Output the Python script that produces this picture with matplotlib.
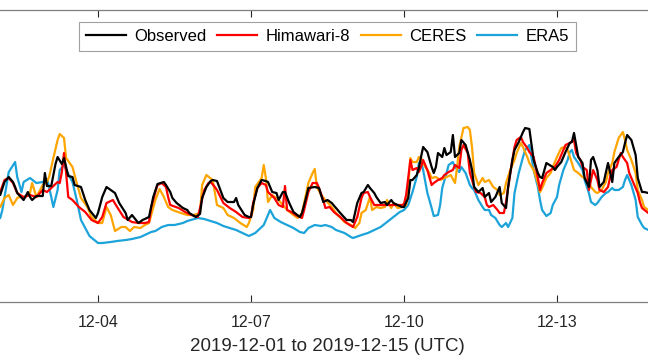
import matplotlib
matplotlib.use("Agg")
import matplotlib.pyplot as plt
import numpy as np
import pandas as pd

plt.rcParams['font.family'] = ['Liberation Sans', 'DejaVu Sans']

start = pd.Timestamp('2019-12-01 00:00')

# hours since 2019-12-01 00:00 UTC and values (arbitrary units) for each series
obs_h = [24, 26, 28, 30, 32, 33, 34, 37, 39, 40, 41, 43, 46, 47, 48, 50, 52, 53, 55, 56, 58, 60, 61, 64, 66, 68, 71, 72, 74, 76, 78, 80, 82, 85, 86, 88, 91, 93, 96, 98, 100, 103, 104, 106, 107, 109, 112, 114, 115, 118, 120, 121, 123, 125, 126, 128, 131, 133, 136, 137, 138, 141, 143, 144, 145, 147, 149, 151, 152, 154, 156, 157, 159, 160, 162, 164, 167, 168, 170, 171, 174, 176, 177, 178, 180, 182, 184, 186, 189, 191, 192, 194, 196, 197, 199, 200, 202, 203, 205, 207, 208, 210, 211, 213, 215, 216, 218, 219, 220, 222, 223, 224, 225, 227, 229, 230, 231, 232, 234, 235, 236, 238, 239, 240, 242, 243, 245, 247, 248, 249, 251, 253, 254, 256, 257, 259, 261, 262, 264, 265, 267, 268, 270, 272, 273, 275, 277, 279, 280, 281, 283, 286, 287, 288, 290, 292, 294, 295, 296, 298, 300, 301, 303, 304, 305, 307, 308, 310, 312, 314, 315, 317, 319, 320, 321, 323, 325, 326, 328, 329, 331, 332]
obs_v = [107, 107, 120, 125, 120, 115, 109, 102, 110, 105, 102, 106, 106, 129, 116, 116, 138, 145, 138, 144, 126, 125, 117, 115, 102, 92, 84, 89, 105, 115, 112, 109, 99, 89, 82, 87, 79, 82, 85, 105, 118, 120, 117, 110, 104, 99, 94, 92, 89, 85, 88, 104, 115, 121, 122, 121, 104, 100, 100, 104, 97, 87, 85, 85, 97, 114, 122, 121, 120, 110, 109, 102, 110, 110, 99, 90, 85, 89, 105, 114, 115, 114, 107, 100, 102, 99, 94, 89, 82, 82, 80, 99, 109, 110, 117, 114, 109, 105, 99, 100, 97, 102, 99, 97, 95, 95, 104, 122, 122, 127, 134, 145, 155, 150, 135, 129, 135, 149, 145, 154, 147, 150, 167, 145, 149, 162, 157, 142, 132, 115, 110, 114, 105, 109, 100, 105, 115, 99, 94, 115, 142, 152, 160, 170, 174, 173, 142, 129, 125, 124, 139, 135, 132, 135, 140, 150, 159, 160, 169, 145, 139, 124, 115, 142, 145, 132, 115, 120, 139, 120, 139, 145, 150, 159, 167, 162, 147, 124, 110, 110, 109, 108]

him_h = [24, 26, 28, 30, 32, 34, 37, 40, 43, 46, 48, 50, 53, 54, 55, 56, 57, 58, 60, 63, 66, 69, 72, 74, 76, 79, 81, 84, 88, 91, 94, 96, 97, 99, 100, 102, 104, 105, 106, 110, 113, 116, 119, 120, 122, 124, 125, 127, 128, 131, 134, 137, 140, 143, 144, 145, 147, 149, 151, 152, 155, 157, 159, 160, 161, 163, 165, 168, 169, 171, 173, 175, 176, 178, 179, 181, 183, 186, 189, 192, 194, 196, 197, 199, 200, 202, 206, 211, 215, 216, 217, 219, 220, 222, 223, 224, 225, 227, 229, 230, 232, 234, 235, 237, 239, 240, 242, 243, 244, 246, 247, 249, 250, 252, 254, 255, 256, 258, 260, 261, 263, 264, 266, 268, 269, 271, 272, 274, 275, 277, 279, 280, 281, 283, 285, 287, 289, 292, 294, 296, 297, 299, 300, 302, 303, 304, 305, 307, 308, 310, 312, 313, 314, 316, 318, 319, 321, 322, 324, 326, 327, 328, 331, 332]
him_v = [107, 110, 122, 124, 119, 109, 105, 107, 105, 112, 110, 114, 120, 119, 130, 149, 129, 105, 102, 95, 90, 82, 79, 85, 99, 102, 95, 85, 80, 79, 79, 80, 94, 110, 117, 119, 115, 105, 97, 94, 90, 87, 85, 94, 112, 119, 120, 115, 112, 99, 94, 90, 85, 84, 85, 99, 114, 119, 117, 110, 104, 97, 95, 116, 92, 90, 87, 84, 92, 110, 119, 119, 114, 102, 94, 95, 90, 85, 79, 75, 85, 104, 109, 110, 105, 97, 97, 97, 97, 98, 107, 142, 132, 134, 130, 135, 142, 132, 117, 119, 122, 124, 127, 130, 132, 137, 134, 152, 157, 149, 129, 115, 110, 109, 105, 97, 95, 97, 92, 89, 89, 100, 129, 155, 162, 165, 160, 154, 150, 145, 124, 112, 119, 129, 132, 135, 142, 157, 159, 162, 149, 142, 135, 132, 112, 122, 132, 122, 112, 110, 115, 125, 132, 135, 149, 145, 139, 129, 119, 109, 100, 94, 89, 87]

cer_h = [24, 26, 28, 30, 32, 34, 35, 38, 40, 41, 43, 46, 48, 49, 51, 53, 54, 56, 57, 60, 62, 64, 67, 69, 72, 74, 76, 78, 80, 83, 85, 87, 89, 92, 94, 96, 99, 101, 103, 105, 107, 111, 114, 117, 120, 121, 123, 126, 128, 131, 133, 136, 139, 142, 143, 145, 146, 149, 150, 151, 152, 154, 157, 159, 161, 164, 166, 168, 170, 171, 173, 174, 175, 177, 179, 182, 184, 188, 191, 193, 195, 196, 198, 200, 201, 203, 205, 207, 208, 210, 211, 213, 215, 217, 218, 219, 220, 222, 223, 224, 226, 228, 229, 231, 233, 235, 236, 238, 240, 241, 242, 244, 246, 247, 248, 249, 251, 253, 254, 256, 258, 260, 261, 263, 264, 266, 268, 269, 271, 272, 274, 275, 277, 279, 280, 281, 283, 285, 286, 288, 290, 292, 293, 295, 296, 298, 300, 301, 303, 304, 306, 307, 309, 311, 312, 314, 315, 317, 319, 320, 321, 323, 325, 326, 328, 329, 331, 332]
cer_v = [94, 95, 104, 107, 97, 104, 105, 105, 109, 119, 105, 117, 120, 125, 144, 162, 168, 164, 144, 135, 119, 104, 95, 85, 79, 79, 95, 87, 71, 75, 75, 71, 75, 74, 77, 79, 102, 113, 105, 95, 92, 89, 87, 87, 89, 117, 127, 122, 97, 94, 87, 84, 79, 75, 79, 92, 115, 124, 137, 124, 100, 107, 102, 97, 92, 87, 84, 89, 109, 119, 129, 133, 115, 107, 102, 95, 89, 80, 77, 74, 79, 89, 92, 105, 92, 95, 94, 95, 102, 94, 99, 94, 95, 97, 117, 144, 140, 140, 145, 144, 135, 129, 124, 125, 122, 124, 125, 127, 119, 135, 155, 174, 175, 172, 155, 129, 117, 124, 120, 122, 115, 112, 107, 109, 119, 132, 142, 149, 159, 155, 145, 139, 132, 119, 110, 114, 124, 129, 135, 145, 154, 155, 152, 139, 132, 129, 125, 124, 120, 115, 110, 109, 112, 120, 129, 139, 150, 164, 170, 162, 152, 142, 129, 112, 102, 95, 92, 90]

era_h = [24, 26, 27, 30, 33, 34, 36, 37, 40, 43, 46, 48, 49, 51, 53, 54, 56, 58, 60, 62, 64, 68, 72, 74, 78, 81, 85, 88, 92, 95, 97, 99, 102, 105, 108, 112, 114, 119, 122, 125, 128, 131, 134, 137, 140, 143, 146, 150, 152, 153, 155, 158, 161, 164, 167, 169, 171, 174, 177, 179, 182, 184, 188, 191, 192, 196, 199, 202, 205, 208, 211, 214, 216, 218, 220, 222, 223, 224, 225, 227, 229, 230, 232, 233, 234, 236, 237, 239, 240, 242, 243, 245, 247, 248, 249, 251, 253, 254, 256, 257, 259, 261, 262, 264, 265, 267, 268, 270, 272, 273, 275, 277, 279, 280, 281, 283, 285, 286, 288, 289, 291, 293, 294, 295, 296, 298, 300, 301, 303, 304, 306, 307, 309, 311, 312, 314, 315, 317, 319, 320, 321, 323, 325, 326, 328, 329, 331, 332]
era_v = [82, 84, 92, 130, 140, 125, 110, 120, 124, 119, 120, 123, 115, 95, 112, 132, 137, 128, 120, 102, 82, 66, 59, 59, 60, 61, 62, 63, 65, 68, 70, 71, 75, 77, 77, 79, 81, 84, 83, 81, 79, 76, 74, 72, 69, 66, 69, 77, 87, 92, 84, 80, 77, 74, 70, 69, 74, 77, 76, 77, 75, 72, 69, 65, 64, 67, 69, 72, 75, 80, 85, 90, 92, 97, 110, 125, 139, 141, 132, 109, 94, 86, 87, 97, 114, 129, 137, 140, 135, 130, 135, 129, 117, 114, 112, 102, 95, 92, 92, 87, 84, 77, 75, 79, 75, 84, 109, 129, 145, 152, 157, 132, 115, 102, 92, 86, 89, 97, 105, 117, 132, 142, 150, 152, 145, 139, 132, 122, 109, 100, 97, 99, 105, 109, 110, 114, 112, 112, 115, 122, 127, 117, 102, 85, 77, 74, 72, 71]

series_names = ['Observed', 'Himawari-8', 'CERES', 'ERA5']
series_colors = ['#000000', '#FF0000', '#FFA500', '#1BA3DA']
tick_days = ['2019-12-04', '2019-12-07', '2019-12-10', '2019-12-13']

def to_time(h):
    return start + pd.to_timedelta(np.asarray(h), unit='h')

fig = plt.figure(figsize=(6.48, 3.64), dpi=100)
ax = fig.add_axes([-0.0849, 0.1703, 1.1806, 0.8022])

data = [(obs_h, obs_v), (him_h, him_v), (cer_h, cer_v), (era_h, era_v)]
zorders = [5, 4, 3, 2]
for (h, v), name, col, z in zip(data, series_names, series_colors, zorders):
    ax.plot(to_time(h), v, color=col, lw=1.6, label=name, zorder=z)

ax.set_xlim(pd.Timestamp('2019-12-01'), pd.Timestamp('2019-12-16'))
ax.set_ylim(0, 292)
ticks = pd.to_datetime(tick_days)
ax.set_xticks(ticks)
ax.set_xticklabels([t.strftime('%m-%d') for t in ticks])
ax.set_yticks([])
ax.tick_params(axis='x', direction='in', length=5, width=0.8, colors='#262626',
               labelsize=11.5, top=True, pad=9)
for s in ax.spines.values():
    s.set_color('#7f7f7f')
    s.set_linewidth(0.9)
ax.set_xlabel('2019-12-01 to 2019-12-15 (UTC)', fontsize=13.5, color='#262626', labelpad=6)

leg = ax.legend(loc='upper center', bbox_to_anchor=(0.5, 0.96), ncol=4, fontsize=12,
                frameon=True, fancybox=False, edgecolor='#a0a0a0', framealpha=1,
                handlelength=2.4, handletextpad=0.5, columnspacing=0.65,
                borderpad=0.42, borderaxespad=0.0)
leg.get_frame().set_linewidth(0.8)

fig.savefig('out.png', dpi=100)
